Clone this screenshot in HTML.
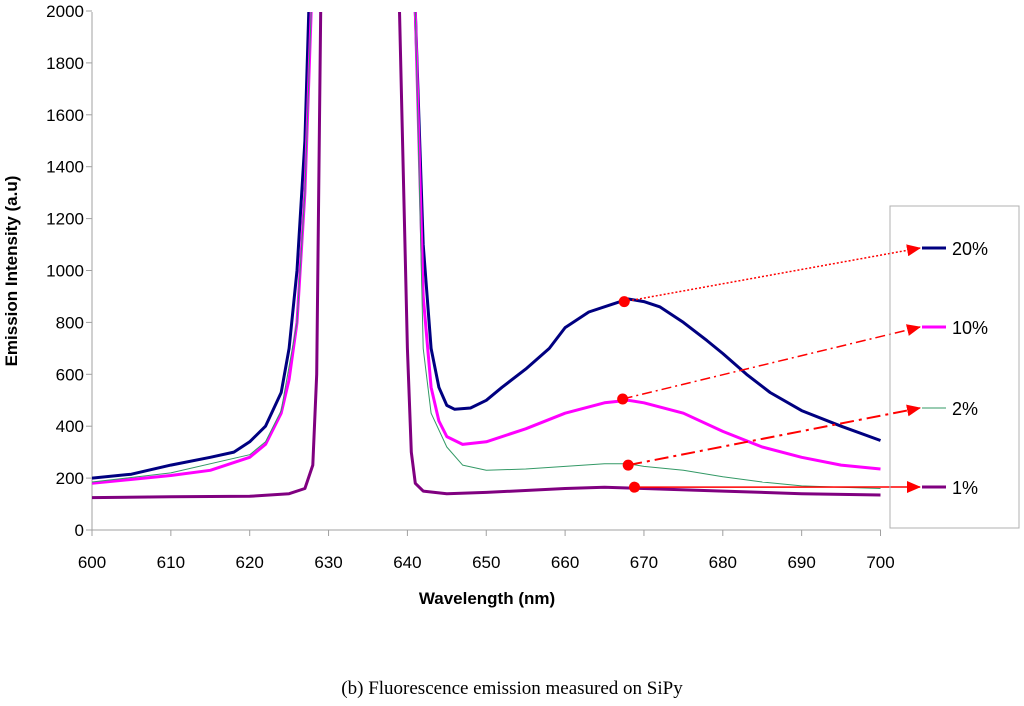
<!DOCTYPE html>
<html><head><meta charset="utf-8"><style>
body{margin:0;background:#fff;}
svg{display:block;font-family:"Liberation Sans",Arial,sans-serif;}
</style></head><body>
<svg id="chart" width="1024" height="706" viewBox="0 0 1024 706">
<defs><clipPath id="pc"><rect x="92" y="12" width="800" height="519"/></clipPath>
<marker id="arr" markerWidth="14" markerHeight="12" refX="13" refY="6" orient="auto" markerUnits="userSpaceOnUse"><path d="M0,0 L14,6 L0,12 z" fill="#ff0000"/></marker></defs>
<g id="axes"></g>
<g id="series" clip-path="url(#pc)"></g>
<g id="ann"></g>
<rect x="890" y="206" width="129" height="322" fill="none" stroke="#b0b0b0"/>
<g id="legend"></g>
<text x="17" y="271" transform="rotate(-90 17 271)" text-anchor="middle" font-weight="bold" font-size="17">Emission Intensity (a.u)</text>
<text x="487" y="604" text-anchor="middle" font-weight="bold" font-size="17">Wavelength (nm)</text>
<text x="512" y="694" text-anchor="middle" font-family="Liberation Serif,serif" font-size="19">(b) Fluorescence emission measured on SiPy</text>
</svg>
<script>
const xTicks=[600,610,620,630,640,650,660,670,680,690,700];
const yTicks=[0,200,400,600,800,1000,1200,1400,1600,1800,2000];
const seriesNames=["20%","10%","2%","1%"];
const seriesColors=["#000080","#ff00ff","#339966","#800080"];
const seriesWidths=[3,3,1,3];
const wl20=[600,605,610,615,618,620,622,624,625,626,627,627.5,634,641,642,643,644,645,646,648,650,652,655,658,660,663,666,668,670,672,675,678,680,683,686,690,695,700];
const v20=[200,215,250,280,300,340,400,530,700,1000,1500,2000,6000,2000,1100,700,550,480,465,470,500,550,620,700,780,840,870,890,880,860,800,730,680,600,530,460,400,345];
const wl10=[600,610,615,620,622,624,625,626,627,627.8,634,641,642,643,644,645,647,650,655,660,665,668,670,675,680,685,690,695,700];
const v10=[180,210,230,280,330,450,580,800,1300,2000,6000,2000,900,550,420,360,330,340,390,450,490,500,490,450,380,320,280,250,235];
const wl2=[600,610,620,622,624,626,627,627.8,634,641,642,643,645,647,650,655,660,665,668,670,675,680,685,690,695,700];
const v2=[185,220,290,340,460,800,1300,2000,6000,2000,700,450,320,250,230,235,245,255,255,245,230,205,185,170,165,160];
const wl1=[600,610,620,625,627,628,628.5,629,634,639,640,640.5,641,642,645,650,660,665,670,680,690,700];
const v1=[125,128,130,140,160,250,600,2000,6000,2000,700,300,180,150,140,145,160,165,160,150,140,135];
const markerWl=[667.5,667.3,668,668.8];
const markerVal=[880,505,250,165];
const NS="http://www.w3.org/2000/svg";
const X=v=>92+(v-600)*7.885;
const Y=v=>530-v*0.2595;
function mk(t,p,a){const e=document.createElementNS(NS,t);for(const k in a)e.setAttribute(k,a[k]);p.appendChild(e);return e;}
const ax=document.getElementById('axes');
let l=mk('line',ax,{x1:92,y1:12,x2:92,y2:530,stroke:'#a0a0a0'});


l=mk('line',ax,{x1:92,y1:530,x2:881,y2:530,stroke:'#a0a0a0'});


yTicks.forEach(t=>{mk('line',ax,{x1:86,x2:92,y1:Y(t),y2:Y(t),stroke:'#a0a0a0'});
const tx=mk('text',ax,{x:84,y:Y(t)+6,'text-anchor':'end','font-size':17});tx.textContent=t;

});
xTicks.forEach(t=>{mk('line',ax,{x1:X(t),x2:X(t),y1:530,y2:536,stroke:'#a0a0a0'});
const tx=mk('text',ax,{x:X(t),y:568,'text-anchor':'middle','font-size':17});tx.textContent=t;

});
const sg=document.getElementById('series');
const data=[[wl20,v20],[wl10,v10],[wl2,v2],[wl1,v1]];
data.forEach((d,i)=>{const pts=d[0].map((w,j)=>X(w).toFixed(1)+','+Y(d[1][j]).toFixed(1)).join(' ');
const p=mk('polyline',sg,{points:pts,fill:'none',stroke:seriesColors[i],'stroke-width':seriesWidths[i],'stroke-linejoin':'round'});

});
const lg=document.getElementById('legend');
const legY=[248,327,408,487];
const dashes=["2,2","10,4,2,4","14,5,3,5",""];
const an=document.getElementById('ann');
seriesNames.forEach((n,i)=>{mk('line',lg,{x1:922,x2:946,y1:legY[i],y2:legY[i],stroke:seriesColors[i],'stroke-width':seriesWidths[i]});
const t=mk('text',lg,{x:952,y:legY[i]+7,'font-size':18});t.textContent=n;


const mx=X(markerWl[i]),my=Y(markerVal[i]);
const a=mk('line',an,{x1:mx,y1:my,x2:920,y2:legY[i],stroke:'#ff0000','stroke-width':i==2?2:1.5,'stroke-dasharray':dashes[i],'marker-end':'url(#arr)'});


const c=mk('circle',an,{cx:mx,cy:my,r:5.5,fill:'#ff0000'});

});
</script>
</body></html>
